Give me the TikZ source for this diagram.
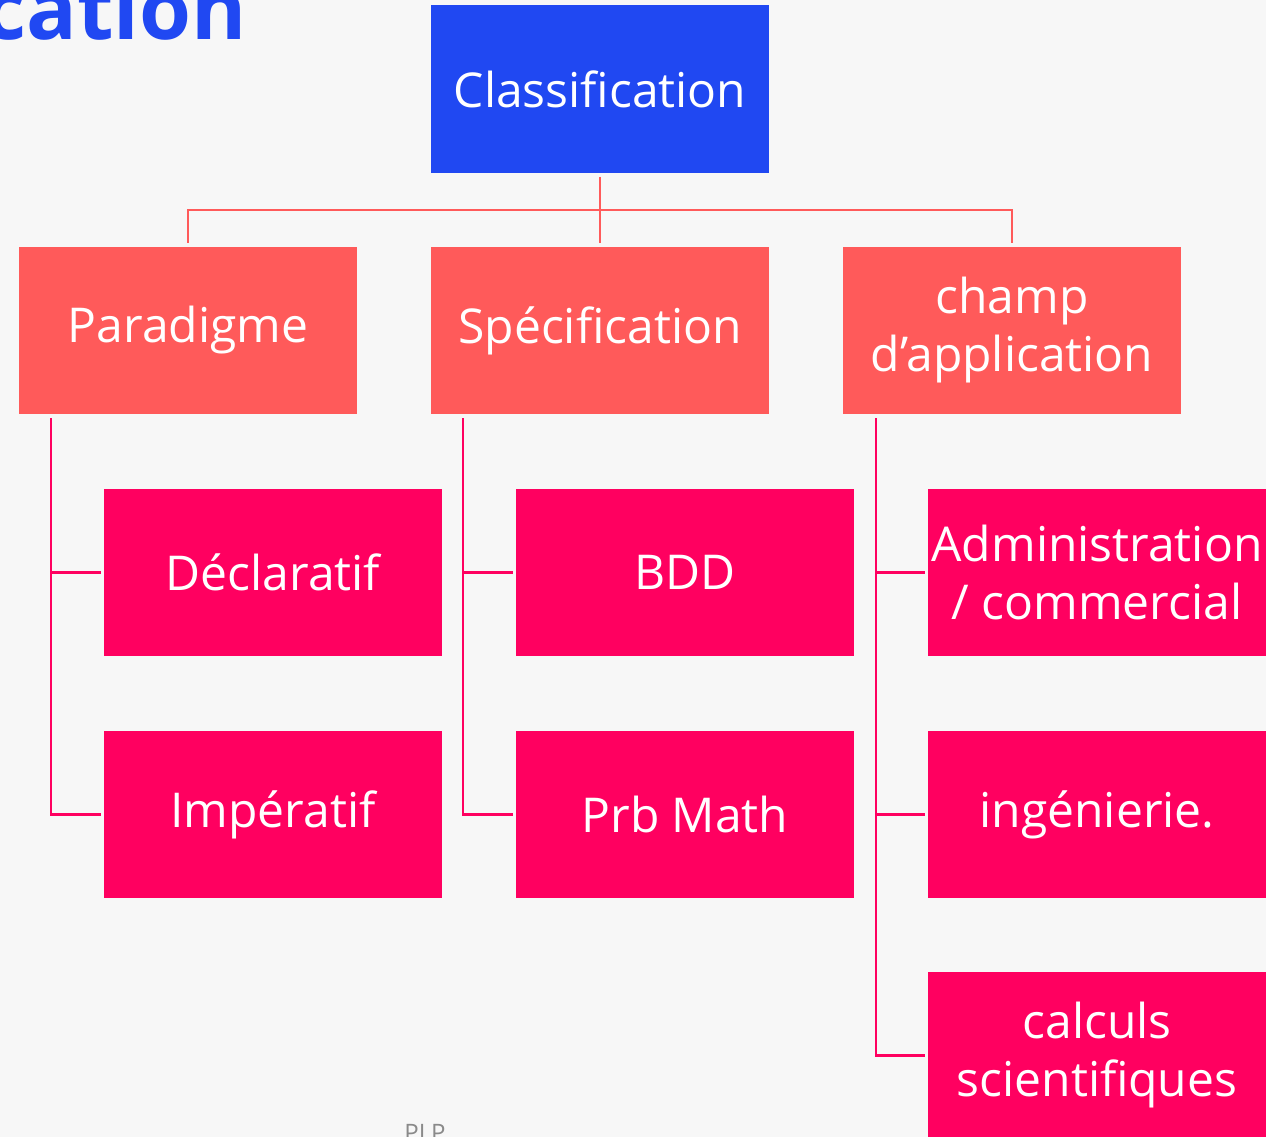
\documentclass[tikz,border=0pt]{standalone}
\usepackage{fontspec}
\setmainfont{Open Sans}
\definecolor{bg}{HTML}{F7F7F7}
\definecolor{topblue}{HTML}{2048F2}
\definecolor{salmon}{HTML}{FF5A5A}
\definecolor{pinkred}{HTML}{FF0060}
\definecolor{plpgray}{HTML}{8A8A8A}
\begin{document}
\begin{tikzpicture}[x=1pt,y=-1pt,
  box/.style={minimum width=338pt,minimum height=167pt,inner sep=0pt,text=white,
    font=\fontsize{48}{58}\selectfont,align=center},
  lvl0/.style={box,fill=topblue},
  lvl1/.style={box,fill=salmon},
  lvl2/.style={box,fill=pinkred},
  conn1/.style={draw=salmon,line width=2.5pt},
  conn2/.style={draw=pinkred,line width=2.5pt}]
\clip (0,0) rectangle (1266,1137);
\fill[bg] (0,0) rectangle (1266,1137);
\node[anchor=base east,text=topblue,font=\fontsize{84}{90}\selectfont\bfseries,inner sep=0pt] (title) at (247,40) {Classification};
\node[anchor=base,text=plpgray,font=\fontsize{24}{28}\selectfont,inner sep=0pt] (plp) at (425,1141) {PLP};
\node[lvl0] (c) at (600,89) {Classification};
\node[lvl1] (p) at (188,330.5) {Paradigme};
\node[lvl1] (s) at (600,330.5) {Spécification};
\node[lvl1] (a) at (1012,330.5) {champ\\d’application};
\node[lvl2] (d) at (273,572.5) {Déclaratif};
\node[lvl2] (i) at (273,814.5) {Impératif};
\node[lvl2] (b) at (685,572.5) {BDD};
\node[lvl2] (m) at (685,814.5) {Prb Math};
\node[lvl2] (ad) at (1097,572.5) {Administration\\/ commercial};
\node[lvl2] (ing) at (1097,814.5) {ingénierie.};
\node[lvl2] (cs) at (1097,1055.5) {calculs\\scientifiques};
% level 1 connectors
\coordinate (cb) at ([yshift=-4]c.south);
\coordinate (hy) at (0,210);
\draw[conn1] (cb) -- ([yshift=4]s.north);
\draw[conn1] ([yshift=4]p.north) |- (cb |- hy) -| ([yshift=4]a.north);
% level 2 connectors
\coordinate (pl) at ([xshift=32,yshift=-4]p.south west);
\coordinate (sl) at ([xshift=32,yshift=-4]s.south west);
\coordinate (al) at ([xshift=33,yshift=-4]a.south west);
\draw[conn2] (pl) |- ([xshift=-3]d.west);
\draw[conn2] (pl) |- ([xshift=-3]i.west);
\draw[conn2] (sl) |- ([xshift=-3]b.west);
\draw[conn2] (sl) |- ([xshift=-3]m.west);
\draw[conn2] (al) |- ([xshift=-3]ad.west);
\draw[conn2] (al) |- ([xshift=-3]ing.west);
\draw[conn2] (al) |- ([xshift=-3]cs.west);
\end{tikzpicture}
\end{document}
